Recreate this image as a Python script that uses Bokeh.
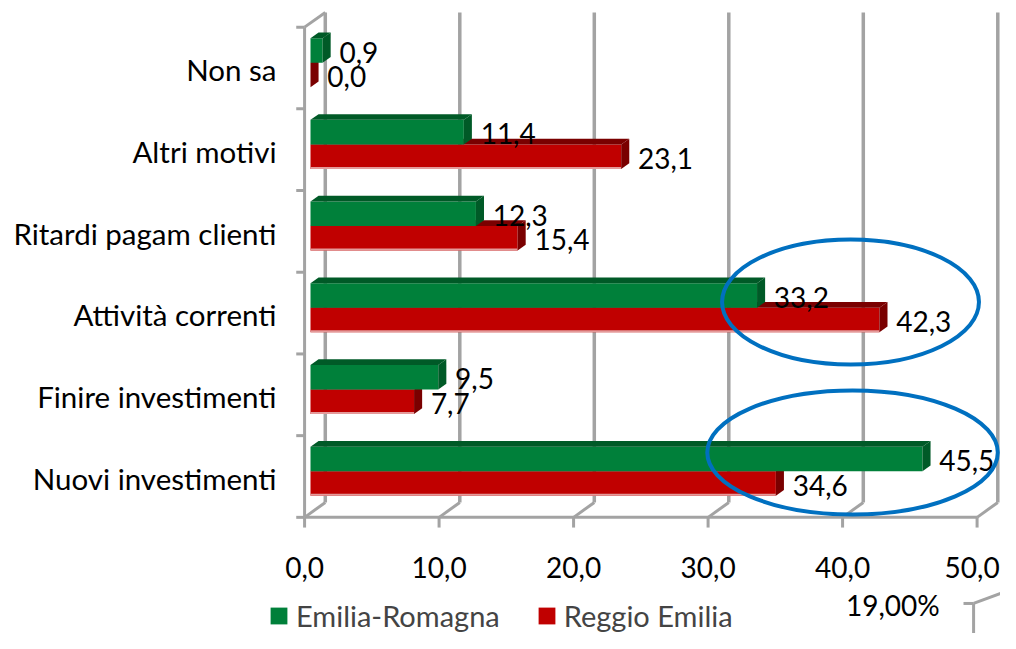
from bokeh.plotting import figure
from bokeh.models import Range1d, Legend, LegendItem
from bokeh.core.properties import value
from bokeh.embed import file_html
from bokeh.resources import INLINE

# ---------------- data ----------------
categories = ["Nuovi investimenti", "Finire investimenti", "Attività correnti",
              "Ritardi pagam clienti", "Altri motivi", "Non sa"]
emilia_romagna = [45.5, 9.5, 33.2, 12.3, 11.4, 0.9]
reggio_emilia = [34.6, 7.7, 42.3, 15.4, 23.1, 0.0]
series_names = ["Emilia-Romagna", "Reggio Emilia"]
x_ticks = [0, 10, 20, 30, 40, 50]
x_tick_labels = ["0,0", "10,0", "20,0", "30,0", "40,0", "50,0"]
side_note = "19,00%"
highlighted = ["Attività correnti", "Nuovi investimenti"]

# ---------------- style ----------------
FONT = value("Lato")
GREEN, GREEN_DARK = "#00803A", "#005A27"
RED, RED_DARK = "#C00000", "#7A0000"
RED_EDGE = "#E49A9A"
GRID = "#A3A3A3"
ELLIPSE_BLUE = "#0070C0"

BAR_H = 0.30           # bar thickness (category units)
GREEN_OFF = 0.215      # green bar centre above category centre
RED_OFF = -0.085       # red bar centre below category centre
DEPTH_X, DEPTH_Y = 0.6, 0.07    # 3D bar depth
FRONT_DX, BACK_DX = -0.44, 1.10  # wall planes vs bar plane
FRONT_Y0, FRONT_Y1 = -0.5, 5.5
BACK_Y0, BACK_Y1 = -0.318, 5.679
LABEL_GAP = 1.25
# ellipse geometry (value units / category units), relative to highlighted categories
ELL_X = [40.15, 40.3]
ELL_DY = [0.136, 0.294]
ELL_W = [19.1, 21.6]
ELL_H = [1.53, 1.52]

n = len(categories)
idx = list(range(n))

p = figure(width=1000, height=633, output_backend="svg", toolbar_location=None,
           x_range=Range1d(-23.048, 51.301), y_range=Range1d(-1.9217, 5.826),
           x_axis_location=None, y_axis_location=None, min_border=0,
           outline_line_color=None, background_fill_color="white")
p.grid.visible = False

# ---------------- walls / gridlines ----------------
p.segment(x0=[t + BACK_DX for t in x_ticks], y0=[BACK_Y0] * len(x_ticks),
          x1=[t + BACK_DX for t in x_ticks], y1=[BACK_Y1] * len(x_ticks),
          line_color=GRID, line_width=3.5)
# floor diagonals
p.segment(x0=[t + FRONT_DX for t in x_ticks], y0=[FRONT_Y0] * len(x_ticks),
          x1=[t + BACK_DX for t in x_ticks], y1=[BACK_Y0] * len(x_ticks),
          line_color=GRID, line_width=3)
# front axis line
p.segment(x0=[x_ticks[0] + FRONT_DX], y0=[FRONT_Y0], x1=[x_ticks[-1] + FRONT_DX], y1=[FRONT_Y0],
          line_color=GRID, line_width=3)
# front ticks
p.segment(x0=[t + FRONT_DX for t in x_ticks], y0=[FRONT_Y0] * len(x_ticks),
          x1=[t + FRONT_DX for t in x_ticks], y1=[FRONT_Y0 - 0.125] * len(x_ticks),
          line_color=GRID, line_width=3)
# left wall edge and top
p.segment(x0=[FRONT_DX, FRONT_DX], y0=[FRONT_Y0, FRONT_Y1],
          x1=[FRONT_DX, BACK_DX], y1=[FRONT_Y1, BACK_Y1],
          line_color=GRID, line_width=3)
# category boundary ticks
bounds = [k - 0.5 for k in range(n + 1)]
p.segment(x0=[FRONT_DX - 0.62] * len(bounds), y0=bounds,
          x1=[FRONT_DX] * len(bounds), y1=bounds, line_color=GRID, line_width=3)

# ---------------- bars ----------------
def draw_series(vals, off, front, dark, edge):
    yc = [i + off for i in idx]
    r = p.hbar(y=yc, height=BAR_H, left=0, right=vals, fill_color=front,
               line_color=None)
    if edge:
        yb_l = [y - BAR_H / 2 + 0.012 for y in yc]
        p.segment(x0=[0] * n, y0=yb_l, x1=vals, y1=yb_l, line_color=edge, line_width=2)
    top_xs, top_ys, side_xs, side_ys = [], [], [], []
    for v, y in zip(vals, yc):
        yt, yb = y + BAR_H / 2, y - BAR_H / 2
        top_xs.append([0, v, v + DEPTH_X, DEPTH_X])
        top_ys.append([yt, yt, yt + DEPTH_Y, yt + DEPTH_Y])
        side_xs.append([v, v, v + DEPTH_X, v + DEPTH_X])
        side_ys.append([yb, yt, yt + DEPTH_Y, yb + DEPTH_Y])
    p.patches(top_xs, top_ys, fill_color=dark, line_color=None)
    p.patches(side_xs, side_ys, fill_color=dark, line_color=None)
    labels = [f"{v:.1f}".replace(".", ",") for v in vals]
    p.text(x=[v + LABEL_GAP for v in vals], y=[y - 0.02 for y in yc], text=labels,
           text_font=FONT, text_font_size="28px", text_color="black",
           text_align="left", text_baseline="middle")
    return r

r_red = draw_series(reggio_emilia, RED_OFF, RED, RED_DARK, RED_EDGE)
r_green = draw_series(emilia_romagna, GREEN_OFF, GREEN, GREEN_DARK, None)

# ---------------- category labels ----------------
p.text(x=[-2.53] * n, y=[i - 0.02 for i in idx], text=categories, text_font=FONT,
       text_font_size="29.5px", text_color="black", text_align="right",
       text_baseline="middle")

# ---------------- x tick labels ----------------
p.text(x=[t + FRONT_DX for t in x_ticks], y=[-1.114] * len(x_ticks), text=x_tick_labels,
       x_offset=[0, 0, 0, 0, 0, -5],
       text_font=FONT, text_font_size="28px", text_color="black",
       text_align="center", text_baseline="middle")

# side note + stray wall fragment at bottom right
p.text(x=[43.3], y=[-1.567], text=[side_note], text_font=FONT, text_font_size="28px",
       text_color="black", text_align="center", text_baseline="middle")
p.segment(x0=[48.55, 49.3, 49.3], y0=[-1.554, -1.554, -1.554],
          x1=[49.3, 49.3, 52.5], y1=[-1.554, -2.2, -1.359],
          line_color=GRID, line_width=3)

# ---------------- highlight ellipses ----------------
ell_y = [categories.index(c) + d for c, d in zip(highlighted, ELL_DY)]
p.ellipse(x=ELL_X, y=ell_y, width=ELL_W, height=ELL_H, fill_alpha=0,
          line_color=ELLIPSE_BLUE, line_width=4)

# ---------------- legend ----------------
legend = Legend(items=[LegendItem(label=series_names[0], renderers=[r_green]),
                       LegendItem(label=series_names[1], renderers=[r_red])],
                orientation="horizontal", location=(268, 0),
                label_text_font="Lato", label_text_font_size="29px",
                glyph_width=21, glyph_height=21, label_standoff=7, spacing=36,
                padding=0, margin=0, border_line_alpha=0, background_fill_alpha=0)
p.add_layout(legend)

open("out.html", "w").write(file_html(p, INLINE))
